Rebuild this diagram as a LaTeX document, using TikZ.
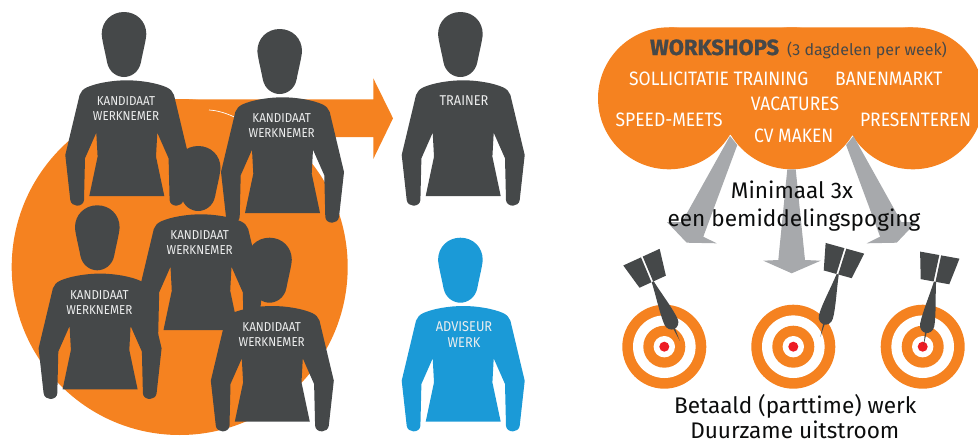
\documentclass[tikz,border=0pt]{standalone}
\usepackage{fontspec}
\setmainfont{Fira Sans}
\newfontfamily\narrowfont[FakeStretch=0.9]{Fira Sans}
\definecolor{orangeM}{HTML}{F58220}
\definecolor{inkM}{HTML}{454849}
\definecolor{blueM}{HTML}{1B9AD7}
\definecolor{greyM}{HTML}{A7A9AC}
\definecolor{redM}{HTML}{ED1C24}
\definecolor{paleM}{HTML}{EDEEEE}
\newcommand{\fs}[2]{\fontsize{#1}{#2}\selectfont}
\tikzset{
  person/.pic={
    \path[pic actions] (-2.8,0) .. controls (-15.5,0) and (-25.1,9.5) .. (-25.1,22)
      .. controls (-25.1,27) and (-21,43) .. (-19.8,50)
      .. controls (-17.8,60.5) and (-9.5,65) .. (-2.8,65)
      .. controls (3.9,65) and (12.2,60.5) .. (14.2,50)
      .. controls (15.4,43) and (19.5,27) .. (19.5,22)
      .. controls (19.5,9.5) and (9.9,0) .. (-2.8,0) -- cycle;
    \path[pic actions] (0,68.3) .. controls (-14,68.3) and (-30,71) .. (-39.8,75.3)
      .. controls (-43.5,77) and (-46,79.5) .. (-47.2,83)
      -- (-61.5,143) -- (-56.5,188)
      .. controls (-56,191.5) and (-53,193.7) .. (-49.8,193.7)
      .. controls (-46,193.7) and (-43,191.5) .. (-42.8,188)
      -- (-41.8,146.3) -- (-30.5,120.7) -- (-29.2,144.7) -- (-37.5,184)
      -- (37.5,184) -- (29.2,144.7) -- (30.5,120.7) -- (41.8,146.3) -- (42.8,188)
      .. controls (43,191.5) and (46,193.7) .. (49.8,193.7)
      .. controls (53,193.7) and (56,191.5) .. (56.5,188)
      -- (61.5,143) -- (47.2,83)
      .. controls (46,79.5) and (43.5,77) .. (39.8,75.3)
      .. controls (30,71) and (14,68.3) .. (0,68.3) -- cycle;
  },
  dart/.pic={
    \fill[inkM] (-1.4,0) -- (-14.5,0) -- (-20,-27) -- (-0.5,-27) -- cycle;
    \fill[inkM] (0.5,0) -- (14.5,0) -- (20,-27) -- (1.4,-27) -- cycle;
    \fill[inkM] (-1.1,0) .. controls (-3,15) and (-7,32) .. (-7.2,44)
      .. controls (-7.2,49) and (-3.5,52) .. (0,52)
      .. controls (3.5,52) and (7.2,49) .. (7.2,44)
      .. controls (7,32) and (3,15) .. (1.1,0) -- cycle;
    \fill[inkM] (-0.9,50) -- (0,65) -- (0.9,50) -- cycle;
  },
  target/.pic={
    \fill[orangeM] (0,0) circle[radius=42];
    \fill[white] (0,0) circle[radius=31.3];
    \fill[orangeM] (0,0) circle[radius=21];
    \fill[white] (0,0) circle[radius=10.7];
    \fill[redM] (0,0) circle[radius=5];
  },
  grey arrow/.style={fill=greyM},
  badge/.style={text=paleM,font=\narrowfont\fs{12.9}{15},align=center,inner sep=0pt},
  bigbadge/.style={text=paleM,font=\narrowfont\fs{14.2}{16},align=center,inner sep=0pt},
  cloudtext/.style={text=white,font=\narrowfont\fs{19.4}{22},anchor=base,inner sep=0pt},
  darktext/.style={text=black!82!inkM,font=\fs{22.6}{26},anchor=base,inner sep=0pt}
}
\begin{document}
\begin{tikzpicture}[x=1pt,y=-1pt]
\clip (0,0) rectangle (978,442);
\useasboundingbox (0,0) rectangle (978,442);
% left group
\fill[orangeM] (179.7,267) circle[radius=168];
\fill[orangeM] (170,99.3) -- (373.3,99.3) -- (373.3,78.3) -- (393,118.3) -- (373.3,159) -- (373.3,137) -- (170,137) -- cycle;
\draw[white,line width=0.7pt] (209,110) .. controls (218,110.5) and (227,113.5) .. (235,117.3);
\pic[fill=inkM] at (126.8,12) {person};
\pic[fill=inkM] at (282.5,29) {person};
\pic[fill=inkM] at (201,146) {person};
\pic[fill=inkM] at (100.1,205.3) {person};
\pic[fill=inkM] at (272.3,237.7) {person};
\pic[fill=inkM] at (463.2,12) {person};
\pic[fill=blueM] at (463.2,237.7) {person};
\node[badge] (k1) at (126,109) {KANDIDAAT\\WERKNEMER};
\node[badge] (k2) at (281.7,126) {KANDIDAAT\\WERKNEMER};
\node[badge] (k3) at (199.7,243) {KANDIDAAT\\WERKNEMER};
\node[badge] (k4) at (99.3,302.5) {KANDIDAAT\\WERKNEMER};
\node[badge] (k5) at (271.7,335) {KANDIDAAT\\WERKNEMER};
\node[bigbadge,anchor=base] (tr) at (464,105.7) {TRAINER};
\node[bigbadge] (ad) at (464,334.5) {ADVISEUR\\WERK};
% cloud
\fill[orangeM] (669,98.3) circle[radius=71];
\fill[orangeM] (791.7,98.3) circle[radius=71];
\fill[orangeM] (913,98.3) circle[radius=71];
\fill[orangeM] (669,27.3) -- (913,27.3) -- (913,98.3) -- (852,135) -- (731,135) -- (669,98.3) -- cycle;
% grey arrows
\fill[grey arrow] (730,136) -- (682,222) -- (667,222) -- (686.7,242.7) -- (716.7,243.3) -- (703.3,236.7) -- (737.3,145) -- cycle;
\fill[grey arrow] (853.4,136) -- (901.4,222) -- (916.4,222) -- (896.7,242.7) -- (866.7,243.3) -- (880.1,236.7) -- (846.1,145) -- cycle;
\fill[grey arrow] (787.3,169.3) -- (778.3,260) -- (763.3,260.7) -- (791.7,273.3) -- (820.7,260.7) -- (805,260) -- (795.7,169.3) -- cycle;
% targets and darts
\pic at (664.3,346.7) {target};
\pic at (793.3,346.7) {target};
\pic at (922.7,346.7) {target};
\pic[rotate=24.6] at (652.7,281.7) {dart};
\pic[rotate=-15.5] at (837.7,274.3) {dart};
\pic[rotate=-10.2] at (935,281.7) {dart};
% texts
\node[anchor=base,inner sep=0pt,text=inkM,font=\fs{22}{24}\bfseries\addfontfeature{FakeBold=1}] (ws) at (714.6,55) {WORKSHOPS};
\node[anchor=base,inner sep=0pt,text=inkM,font=\fs{16}{18}] (wd) at (867,55) {(3 dagdelen per week)};
\node[cloudtext] (c1) at (718.8,85.3) {SOLLICITATIE TRAINING};
\node[cloudtext] (c2) at (888.8,85.3) {BANENMARKT};
\node[cloudtext] (c3) at (795,110) {VACATURES};
\node[cloudtext] (c4) at (669.2,126) {SPEED-MEETS};
\node[cloudtext] (c5) at (915.5,126) {PRESENTEREN};
\node[cloudtext] (c6) at (793.7,142.3) {CV MAKEN};
\node[darktext] (m1) at (792,198) {Minimaal 3x};
\node[darktext] (m2) at (794,226.7) {een bemiddelingspoging};
\node[darktext] (b1) at (795.3,413.3) {Betaald (parttime) werk};
\node[darktext] (b2) at (794.8,438.8) {Duurzame uitstroom};
\end{tikzpicture}
\end{document}
